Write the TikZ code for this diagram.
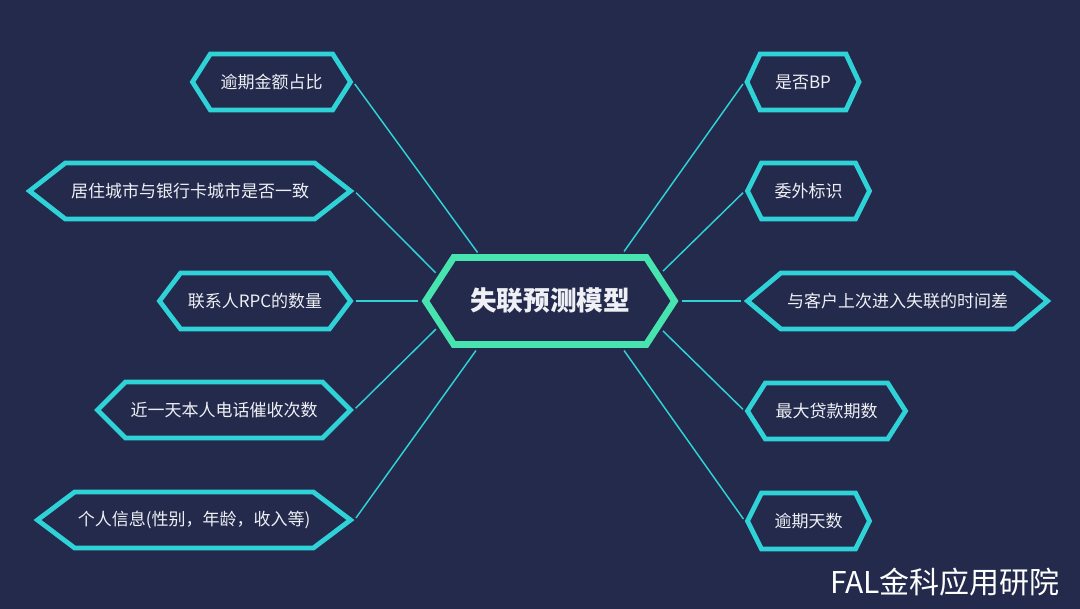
\documentclass[tikz,border=0pt]{standalone}
\usepackage{fontspec}
\newfontfamily\cjk{Noto Sans CJK SC}
\usetikzlibrary{shapes.symbols}
\definecolor{navy}{HTML}{242A4C}
\definecolor{cyanline}{HTML}{2FD2D6}
\definecolor{mint}{HTML}{48E4B0}
\definecolor{label}{HTML}{EEF0F5}

\begin{document}
\begin{tikzpicture}[x=0.75pt,y=-0.75pt,text=label,
  hexbox/.style={signal,signal to=west and east,draw=cyanline,fill=navy,
    line width=3.6pt,minimum height=42pt,inner sep=0pt,
    font=\cjk\fontsize{12.75}{15}\selectfont},
  core/.style={signal,signal to=west and east,draw=mint,fill=navy,
    line width=5pt,minimum width=186.75pt,minimum height=65.25pt,
    signal pointer angle=114,inner sep=0pt,
    font=\cjk\bfseries\fontsize{20}{24}\selectfont},
  link/.style={draw=cyanline,line width=1.1pt,shorten <=1.8pt,shorten >=2.5pt}]

% canvas
\fill[navy] (0,0) rectangle (1080,609);

% centre
\node[core] (model) at (550,301) {失联预测模型};

% left features
\node[hexbox,minimum width=118.5pt,signal pointer angle=115] (amt) at (271.5,82) {逾期金额占比};
\node[hexbox,minimum width=240.75pt,signal pointer angle=76] (city) at (190,191) {居住城市与银行卡城市是否一致};
\node[hexbox,minimum width=143.25pt,signal pointer angle=106] (rpc) at (255,301) {联系人RPC的数量};
\node[hexbox,minimum width=189.75pt,signal pointer angle=90] (calls) at (224,410) {近一天本人电话催收次数};
\node[hexbox,minimum width=234.75pt,signal pointer angle=74] (info) at (194,520) {个人信息(性别，年龄，收入等)};

% right features
\node[hexbox,minimum width=84pt,signal pointer angle=130] (bp) at (803,82) {是否BP};
\node[hexbox,minimum width=91.5pt,signal pointer angle=127] (outs) at (808.5,191) {委外标识};
\node[hexbox,minimum width=225pt,signal pointer angle=80] (gap) at (897.5,301) {与客户上次进入失联的时间差};
\node[hexbox,minimum width=118.5pt,signal pointer angle=115] (term) at (826.5,411) {最大贷款期数};
\node[hexbox,minimum width=91.5pt,signal pointer angle=127] (days) at (808.5,521) {逾期天数};

% spokes
\draw[link] (amt.east) -- (model.147);
\draw[link] (city.east) -- (model.167);
\draw[link] (rpc.east) -- (model.west);
\draw[link] (calls.east) -- (model.193);
\draw[link] (info.east) -- (model.213);
\draw[link] (bp.west) -- (model.33);
\draw[link] (outs.west) -- (model.14);
\draw[link] (gap.west) -- (model.east);
\draw[link] (term.west) -- (model.-14);
\draw[link] (days.west) -- (model.-33);

% watermark
\node[font=\cjk\fontsize{22.5}{26}\selectfont,text=white] (mark) at (945,582) {FAL金科应用研院};
\end{tikzpicture}
\end{document}
